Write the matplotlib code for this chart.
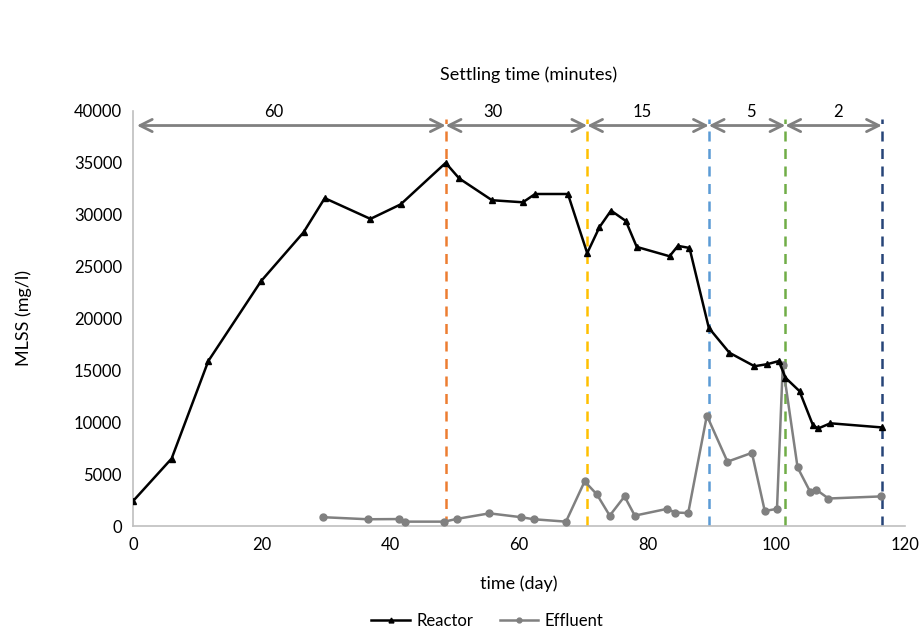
import matplotlib
matplotlib.use("Agg")
import matplotlib.pyplot as plt

plt.rcParams['font.family'] = ['Lato', 'DejaVu Sans']

# Reactor MLSS (mg/l)
reactor_day = [0, 6, 11.7, 19.9, 26.5, 29.8, 36.9, 41.6, 48.6, 50.7, 55.8, 60.6, 62.5,
               67.6, 70.6, 72.5, 74.3, 76.6, 78.3, 83.4, 84.7, 86.5, 89.5, 92.7, 96.6,
               98.6, 100.4, 101.4, 103.6, 105.7, 106.5, 108.4, 116.4]
reactor_mlss = [2400, 6500, 15900, 23600, 28300, 31600, 29600, 31000, 35000, 33500, 31400,
                31200, 32000, 32000, 26300, 28800, 30400, 29400, 26900, 26000, 27000, 26800,
                19100, 16700, 15400, 15600, 15900, 14300, 13000, 9700, 9400, 9900, 9500]

# Effluent MLSS (mg/l)
effluent_day = [29.5, 36.5, 41.4, 42.3, 48.4, 50.3, 55.4, 60.3, 62.3, 67.3, 70.2, 72.1, 74.1,
                76.4, 78.0, 83.0, 84.3, 86.3, 89.2, 92.4, 96.2, 98.2, 100.1, 101.0, 103.3,
                105.3, 106.2, 108.1, 116.2]
effluent_mlss = [850, 650, 670, 420, 420, 680, 1220, 850, 650, 420, 4300, 3050, 1000, 2850,
                 1000, 1650, 1300, 1250, 10650, 6200, 7050, 1450, 1650, 15500, 5650, 3250,
                 3500, 2650, 2850]

# Settling time periods
change_days = [48.6, 70.6, 89.5, 101.4, 116.4]
change_colors = ['#ED7D31', '#FFC000', '#5B9BD5', '#70AD47', '#264478']
period_starts = [0.6, 48.6, 70.6, 89.5, 101.4]
period_labels = ['60', '30', '15', '5', '2']
label_days = [21.9, 55.9, 79.2, 96.0, 109.6]

fig = plt.figure(figsize=(9.2, 6.31), dpi=100)
ax = fig.add_axes([0.1446, 0.1664, 0.8391, 0.6577])

p1, = ax.plot(reactor_day, reactor_mlss, color='black', lw=1.8, marker='^', ms=5,
              label='Reactor', zorder=4)
p2, = ax.plot(effluent_day, effluent_mlss, color='#808080', lw=1.8, marker='o', ms=5,
              label='Effluent', zorder=3)

for d, c in zip(change_days, change_colors):
    ax.plot([d, d], [0, 39200], color=c, lw=1.8, ls=(0, (4, 3)), zorder=2)

for s, e in zip(period_starts, change_days):
    ax.annotate('', xy=(e, 38600), xytext=(s, 38600),
                arrowprops=dict(arrowstyle='<->', color='#808080', lw=2,
                                mutation_scale=22, shrinkA=0, shrinkB=0))
for lx, t in zip(label_days, period_labels):
    ax.text(lx, 39900, t, ha='center', va='center', fontsize=12)

ax.text(0.512, 1.087, 'Settling time (minutes)', transform=ax.transAxes,
        ha='center', va='center', fontsize=13)

ax.set_xlim(0, 120)
ax.set_ylim(0, 40000)
ax.set_xticks(range(0, 121, 20))
ax.set_yticks(range(0, 40001, 5000))
ax.tick_params(length=0, labelsize=12, pad=8)
for s in ['top', 'right']:
    ax.spines[s].set_visible(False)
for s in ['left', 'bottom']:
    ax.spines[s].set_color('#BFBFBF')
    ax.spines[s].set_linewidth(1.2)

ax.set_xlabel('time (day)', fontsize=13, labelpad=16)
ax.set_ylabel('MLSS (mg/l)', fontsize=13, labelpad=30)

fig.legend(handles=[p1, p2], loc='center', bbox_to_anchor=(0.53, 0.016), ncol=2,
           frameon=False, fontsize=12, handlelength=2.3, handletextpad=0.4,
           columnspacing=1.6, markerscale=0.7)

fig.savefig('out.png', dpi=100)
